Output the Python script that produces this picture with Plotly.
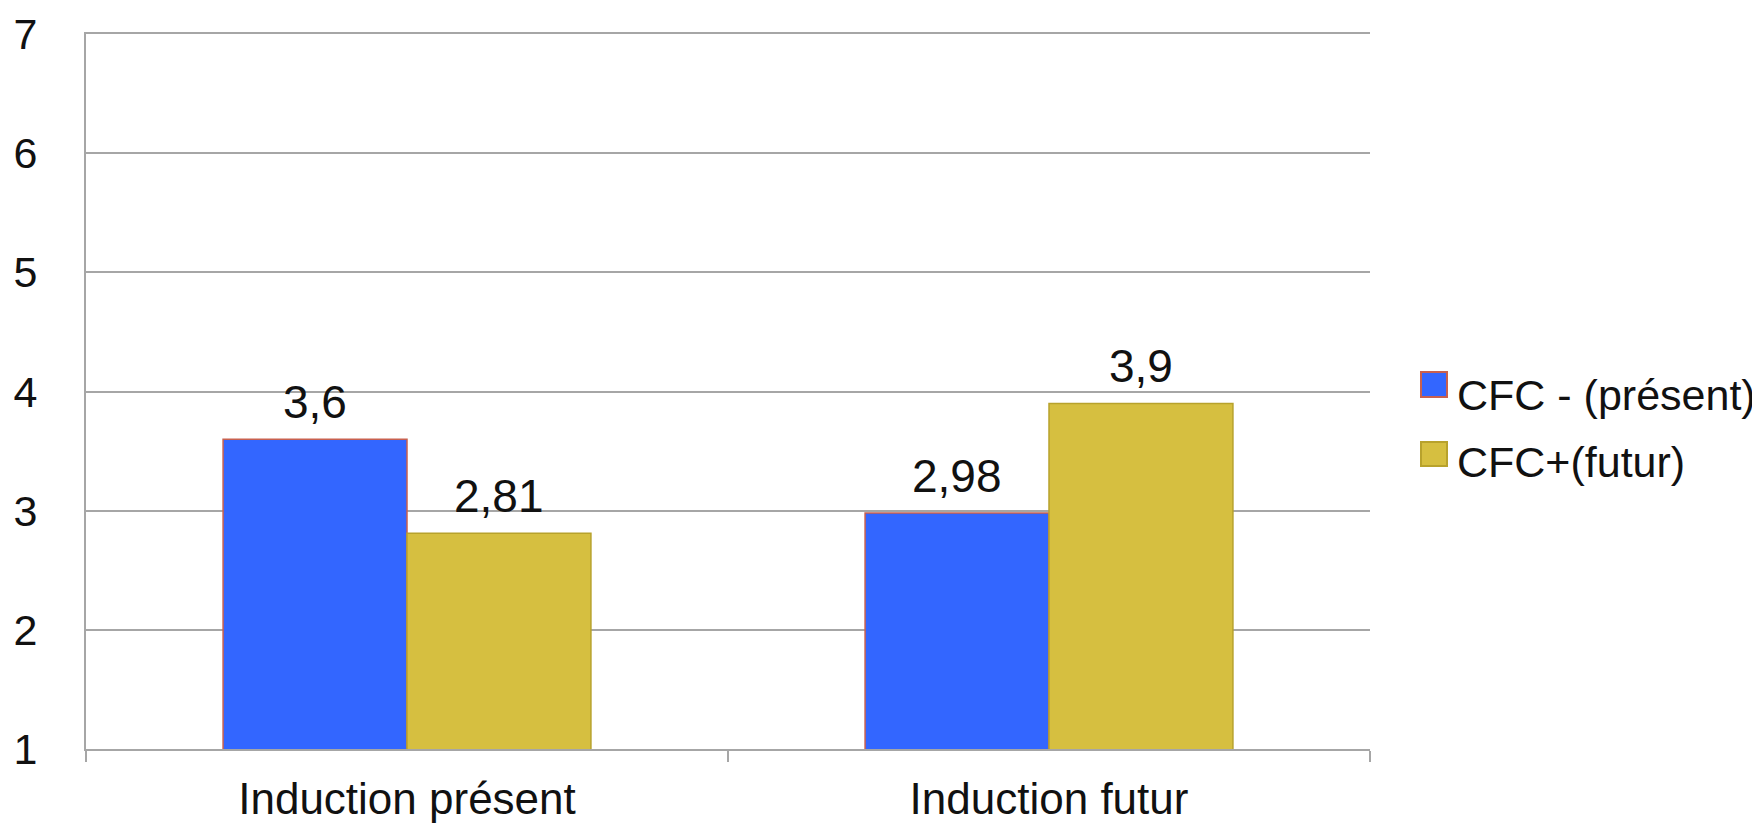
import plotly.graph_objects as go

categories = ["Induction présent", "Induction futur"]
series_names = ["CFC - (présent)", "CFC+(futur)"]
cfc_minus = [3.6, 2.98]
cfc_plus = [2.81, 3.9]
y_ticks = [1, 2, 3, 4, 5, 6, 7]

fill_colors = ["#3366FF", "#D6BF40"]
line_colors = ["#C8604F", "#B8A22C"]
FONT = "Liberation Sans"

W, H = 1760, 824
ML, MR, MT, MB = 78, 398, 26, 83
BARGAP = 0.427

def fmt(v):
    return f"{v:g}".replace(".", ",")

fig = go.Figure()
series_vals = [cfc_minus, cfc_plus]
for name, vals, fc, lc in zip(series_names, series_vals, fill_colors, line_colors):
    fig.add_trace(go.Bar(
        x=categories, y=vals, name=name,
        marker=dict(color=fc, line=dict(color=lc, width=1.5)),
        cliponaxis=False, showlegend=False,
    ))

# value labels placed through the axes (category + value), shifted to each bar of the group
plot_w = W - ML - MR
cat_w = plot_w / len(categories)
bar_w = cat_w * (1 - BARGAP) / len(series_vals)
annotations = []
for si, vals in enumerate(series_vals):
    shift = (si - (len(series_vals) - 1) / 2) * bar_w
    for cat, v in zip(categories, vals):
        annotations.append(dict(x=cat, y=v, xref="x", yref="y", xshift=shift, yshift=9,
                                xanchor="center", yanchor="bottom", showarrow=False,
                                text=fmt(v), font=dict(family=FONT, size=46, color="#111111")))

# manual legend (large square swatches)
plot_h = H - MT - MB
def py(px):
    return (H - MB - px) / plot_h
def pxx(px):
    return (px - ML) / plot_w

legend_rows_px = [(364, 389, 387), (434, 458, 454)]
shapes = []
for (top, bot, mid), name, fc, lc in zip(legend_rows_px, series_names, fill_colors, line_colors):
    shapes.append(dict(type="rect", xref="paper", yref="paper",
                       x0=pxx(1413), x1=pxx(1439), y0=py(bot), y1=py(top),
                       fillcolor=fc, line=dict(color=lc, width=2)))
    annotations.append(dict(xref="paper", yref="paper", x=pxx(1447), y=py(mid),
                            xanchor="left", yanchor="middle", showarrow=False,
                            text=name, font=dict(family=FONT, size=43, color="#111111")))

fig.update_layout(
    width=W, height=H,
    margin=dict(l=ML, r=MR, t=MT, b=MB, autoexpand=False),
    paper_bgcolor="white", plot_bgcolor="white",
    barmode="group", bargap=BARGAP, bargroupgap=0,
    font=dict(family=FONT, size=42, color="#111111"),
    shapes=shapes, annotations=annotations,
    showlegend=False,
)
fig.update_xaxes(
    showline=True, mirror=True, linecolor="#A6A6A6", linewidth=2,
    ticks="outside", tickson="boundaries", ticklen=11, tickwidth=2, tickcolor="#A6A6A6",
    ticklabelstandoff=10, showgrid=False, automargin=False,
    tickfont=dict(family=FONT, size=44, color="#111111"),
)
fig.update_yaxes(
    range=[1, 7], tickvals=y_ticks, ticktext=[str(t) for t in y_ticks],
    showline=True, linecolor="#A6A6A6", linewidth=2,
    showgrid=True, gridcolor="#A6A6A6", gridwidth=2, zeroline=False,
    ticks="", ticklabelstandoff=38, automargin=False, ticklabeloverflow="allow",
    tickfont=dict(family=FONT, size=43, color="#111111"),
)

fig.write_html("out.html")
